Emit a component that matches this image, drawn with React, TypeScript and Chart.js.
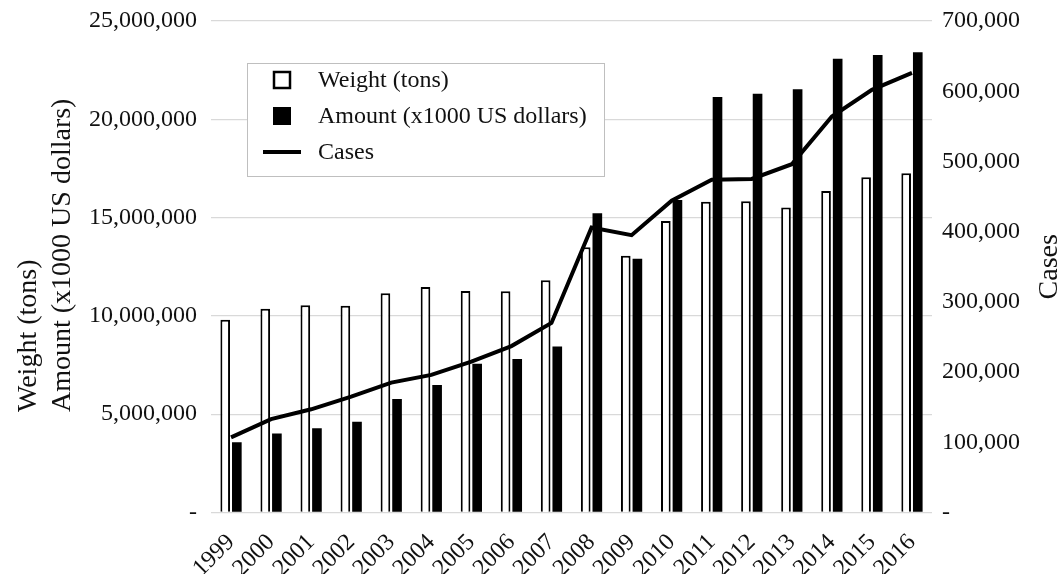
import React, { useEffect, useRef } from 'react';
import { Chart, registerables } from 'chart.js';

Chart.register(...registerables);

const years = ['1999', '2000', '2001', '2002', '2003', '2004', '2005', '2006', '2007', '2008', '2009', '2010', '2011', '2012', '2013', '2014', '2015', '2016'];
const weightTons = [9800000, 10360000, 10540000, 10510000, 11150000, 11470000, 11270000, 11250000, 11810000, 13490000, 13060000, 14830000, 15810000, 15830000, 15520000, 16350000, 17050000, 17250000];
const amountThousandUsd = [3570000, 4020000, 4280000, 4610000, 5770000, 6490000, 7560000, 7810000, 8440000, 15220000, 12910000, 15900000, 21130000, 21300000, 21530000, 23080000, 23270000, 23410000];
const cases = [107000, 133000, 147000, 165000, 185000, 196000, 215000, 237000, 270000, 406000, 395000, 444000, 474000, 475000, 496000, 564000, 602000, 626000];

const leftTitleLines = ['Weight (tons)', 'Amount (x1000 US dollars)'];
const rightTitle = 'Cases';
const legendLabels = ['Weight (tons)', 'Amount (x1000 US dollars)', 'Cases'];

const FONT = "'Liberation Serif', 'Times New Roman', serif";
const TEXT = '#111111';

const fmt = (v: number) => (v === 0 ? '-' : Math.round(v).toLocaleString('en-US'));

const decorPlugin = {
  id: 'decor',
  afterDraw(chart: any) {
    const ctx = chart.ctx as CanvasRenderingContext2D;
    const area = chart.chartArea;
    ctx.save();
    // Left axis titles (two lines, rotated, start-aligned)
    ctx.fillStyle = TEXT;
    ctx.font = `28px ${FONT}`;
    ctx.textAlign = 'left';
    ctx.textBaseline = 'alphabetic';
    const startY = 412;
    const xs = [36, 70];
    leftTitleLines.forEach((t, i) => {
      ctx.save();
      ctx.translate(xs[i], startY);
      ctx.rotate(-Math.PI / 2);
      ctx.fillText(t, 0, 0);
      ctx.restore();
    });
    // Right axis title
    ctx.save();
    ctx.translate(1057, (area.top + area.bottom) / 2);
    ctx.rotate(-Math.PI / 2);
    ctx.textAlign = 'center';
    ctx.fillText(rightTitle, 0, 0);
    ctx.restore();

    // Legend
    const bx = 247, by = 63, bw = 357, bh = 113;
    ctx.fillStyle = '#ffffff';
    ctx.fillRect(bx, by, bw, bh);
    ctx.strokeStyle = '#bfbfbf';
    ctx.lineWidth = 1;
    ctx.strokeRect(bx + 0.5, by + 0.5, bw, bh);
    const rows = [80, 116, 152];
    const iconX = 282;
    ctx.font = `24px ${FONT}`;
    ctx.textAlign = 'left';
    ctx.textBaseline = 'middle';
    legendLabels.forEach((label, i) => {
      const y = rows[i];
      if (i === 0) {
        ctx.fillStyle = '#fff';
        ctx.fillRect(iconX - 8, y - 8, 16, 16);
        ctx.strokeStyle = '#000';
        ctx.lineWidth = 2.5;
        ctx.strokeRect(iconX - 8, y - 8, 16, 16);
      } else if (i === 1) {
        ctx.fillStyle = '#000';
        ctx.fillRect(iconX - 9, y - 9, 18, 18);
      } else {
        ctx.strokeStyle = '#000';
        ctx.lineWidth = 4;
        ctx.beginPath();
        ctx.moveTo(iconX - 19, y);
        ctx.lineTo(iconX + 19, y);
        ctx.stroke();
      }
      ctx.fillStyle = TEXT;
      ctx.fillText(label, 318, y + 1);
    });
    ctx.restore();
  },
};

export default function App() {
  const canvasRef = useRef<HTMLCanvasElement | null>(null);

  useEffect(() => {
    const canvas = canvasRef.current;
    if (!canvas) return;
    const chart = new Chart(canvas, {
      type: 'bar',
      data: {
        labels: years,
        datasets: [
          {
            type: 'line',
            label: 'Cases',
            data: cases,
            yAxisID: 'y1',
            borderColor: '#000',
            borderWidth: 4,
            pointRadius: 0,
            tension: 0,
            fill: false,
            order: 0,
          } as any,
          {
            label: 'Weight (tons)',
            data: weightTons,
            yAxisID: 'y',
            backgroundColor: '#ffffff',
            borderColor: '#000000',
            borderWidth: 2,
            categoryPercentage: 0.58,
            barPercentage: 0.83,
            order: 1,
          },
          {
            label: 'Amount (x1000 US dollars)',
            data: amountThousandUsd,
            yAxisID: 'y',
            backgroundColor: '#000000',
            borderWidth: 0,
            categoryPercentage: 0.58,
            barPercentage: 0.83,
            order: 1,
          },
        ],
      },
      options: {
        responsive: false,
        animation: false,
        layout: { padding: { top: 21, left: 0, right: 0, bottom: 0 } },
        plugins: {
          legend: { display: false },
          tooltip: { enabled: false },
          title: { display: false },
        },
        scales: {
          x: {
            grid: { display: false },
            border: { display: false },
            ticks: {
              autoSkip: false,
              maxRotation: 45,
              minRotation: 45,
              padding: 8,
              color: TEXT,
              font: { family: FONT, size: 24 },
            },
            afterFit(scale: any) {
              scale.height = 61.5;
              scale.paddingLeft = 0;
              scale.paddingRight = 0;
            },
          },
          y: {
            position: 'left',
            min: 0,
            max: 25000000,
            grid: { color: '#d9d9d9', lineWidth: 1.3, drawTicks: false },
            border: { display: false },
            ticks: {
              stepSize: 5000000,
              padding: 14,
              color: TEXT,
              font: { family: FONT, size: 24 },
              callback: (v: any) => fmt(Number(v)),
            },
            afterFit(scale: any) {
              scale.width = 211;
              scale.paddingTop = 0;
              scale.paddingBottom = 0;
            },
          },
          y1: {
            position: 'right',
            min: 0,
            max: 700000,
            grid: { drawOnChartArea: false, drawTicks: false },
            border: { display: false },
            ticks: {
              stepSize: 100000,
              padding: 10,
              color: TEXT,
              font: { family: FONT, size: 24 },
              callback: (v: any) => fmt(Number(v)),
            },
            afterFit(scale: any) {
              scale.width = 132;
              scale.paddingTop = 0;
              scale.paddingBottom = 0;
            },
          },
        },
      } as any,
      plugins: [decorPlugin],
    });
    return () => chart.destroy();
  }, []);

  return (
    <div style={{ position: 'absolute', left: 0, top: 0, width: 1064, height: 574, background: '#fff' }}>
      <canvas ref={canvasRef} width={1064} height={574} style={{ display: 'block', width: 1064, height: 574 }} />
    </div>
  );
}
